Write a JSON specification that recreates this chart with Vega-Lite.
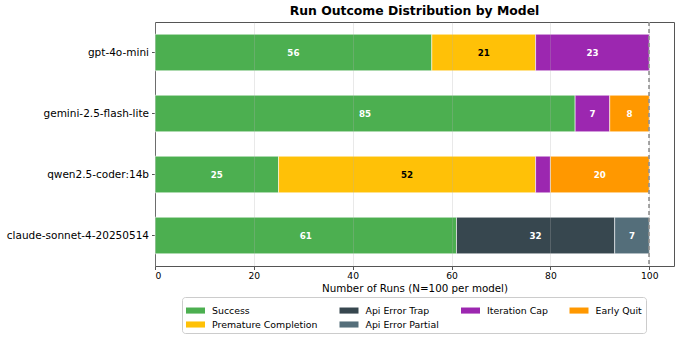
{
  "$schema": "https://vega.github.io/schema/vega-lite/v6.json",
  "autosize": "none",
  "width": 519,
  "height": 244,
  "padding": {"left": 155, "top": 22, "right": 7, "bottom": 73},
  "background": "white",
  "title": {"text": "Run Outcome Distribution by Model", "font": "DejaVu Sans", "fontSize": 12.4, "fontWeight": "bold", "color": "black", "offset": 4},
  "config": {
    "font": "DejaVu Sans",
    "view": {"stroke": "#555", "strokeWidth": 1}
  },
  "data": {"values": [
    {"model": "gpt-4o-mini", "outcome": "Success", "runs": 56},
    {"model": "gpt-4o-mini", "outcome": "Premature Completion", "runs": 21},
    {"model": "gpt-4o-mini", "outcome": "Iteration Cap", "runs": 23},
    {"model": "gemini-2.5-flash-lite", "outcome": "Success", "runs": 85},
    {"model": "gemini-2.5-flash-lite", "outcome": "Iteration Cap", "runs": 7},
    {"model": "gemini-2.5-flash-lite", "outcome": "Early Quit", "runs": 8},
    {"model": "qwen2.5-coder:14b", "outcome": "Success", "runs": 25},
    {"model": "qwen2.5-coder:14b", "outcome": "Premature Completion", "runs": 52},
    {"model": "qwen2.5-coder:14b", "outcome": "Iteration Cap", "runs": 3},
    {"model": "qwen2.5-coder:14b", "outcome": "Early Quit", "runs": 20},
    {"model": "claude-sonnet-4-20250514", "outcome": "Success", "runs": 61},
    {"model": "claude-sonnet-4-20250514", "outcome": "Api Error Trap", "runs": 32},
    {"model": "claude-sonnet-4-20250514", "outcome": "Api Error Partial", "runs": 7}
  ]},
  "transform": [
    {"calculate": "indexof(['Success','Premature Completion','Api Error Trap','Api Error Partial','Iteration Cap','Early Quit'], datum.outcome)", "as": "ord"},
    {"stack": "runs", "groupby": ["model"], "sort": [{"field": "ord", "order": "ascending"}], "as": ["x0", "x1"]},
    {"calculate": "(datum.x0 + datum.x1) / 2", "as": "xm"}
  ],
  "layer": [
    {
      "mark": {"type": "bar", "stroke": "white", "strokeWidth": 0.8, "strokeOpacity": 0.7},
      "encoding": {
        "y": {"field": "model", "type": "nominal", "sort": ["gpt-4o-mini", "gemini-2.5-flash-lite", "qwen2.5-coder:14b", "claude-sonnet-4-20250514"],
          "scale": {"paddingInner": 0.4, "paddingOuter": 0.2},
          "axis": {"title": null, "labelFont": "DejaVu Sans", "labelFontSize": 10.5, "labelColor": "black", "tickColor": "#555", "tickSize": 3.5, "domain": false, "labelPadding": 3}},
        "x": {"field": "x0", "type": "quantitative", "scale": {"domain": [0, 105], "nice": false, "zero": true},
          "axis": {"title": "Number of Runs (N=100 per model)", "titleFont": "DejaVu Sans", "titleFontSize": 10.3, "titleFontWeight": "normal", "titleColor": "black", "titlePadding": 3,
            "values": [0, 20, 40, 60, 80, 100], "labelFont": "DejaVu Sans", "labelFontSize": 9.2, "labelColor": "black", "tickColor": "#555", "tickSize": 3.5, "labelPadding": 2,
            "domain": false, "grid": true, "gridColor": "#b0b0b0", "gridOpacity": 0.35, "gridWidth": 0.8, "zindex": 1}},
        "x2": {"field": "x1"},
        "color": {"field": "outcome", "type": "nominal",
          "scale": {"domain": ["Success", "Api Error Trap", "Iteration Cap", "Early Quit", "Premature Completion", "Api Error Partial"],
            "range": ["#4CAF50", "#37474F", "#9C27B0", "#FF9800", "#FFC107", "#546E7A"]},
          "legend": {"orient": "none", "legendX": 27, "legendY": 275, "columns": 4, "title": null, "direction": "horizontal",
            "symbolType": "M-1,-0.32H1V0.32H-1Z", "symbolSize": 361, "symbolStrokeWidth": 0, "symbolOpacity": 1,
            "labelFont": "DejaVu Sans", "labelFontSize": 9.4, "labelColor": "black", "labelOffset": 7, "labelLimit": 200,
            "columnPadding": 21.5, "rowPadding": 0, "padding": 4, "strokeColor": "#cccccc", "fillColor": "white", "cornerRadius": 3}}
      }
    },
    {
      "mark": {"type": "rule", "strokeDash": [4, 3], "color": "#999", "opacity": 0.5, "strokeWidth": 1},
      "encoding": {"x": {"datum": 100, "type": "quantitative"}}
    },
    {
      "transform": [{"filter": "datum.runs >= 5"}],
      "mark": {"type": "text", "font": "DejaVu Sans", "fontWeight": "bold", "fontSize": 8.7, "align": "center", "baseline": "middle"},
      "encoding": {
        "y": {"field": "model", "type": "nominal", "sort": ["gpt-4o-mini", "gemini-2.5-flash-lite", "qwen2.5-coder:14b", "claude-sonnet-4-20250514"]},
        "x": {"field": "xm", "type": "quantitative"},
        "text": {"field": "runs", "type": "quantitative"},
        "color": {"condition": {"test": "datum.outcome === 'Premature Completion'", "value": "black"}, "value": "white"}
      }
    }
  ]
}
